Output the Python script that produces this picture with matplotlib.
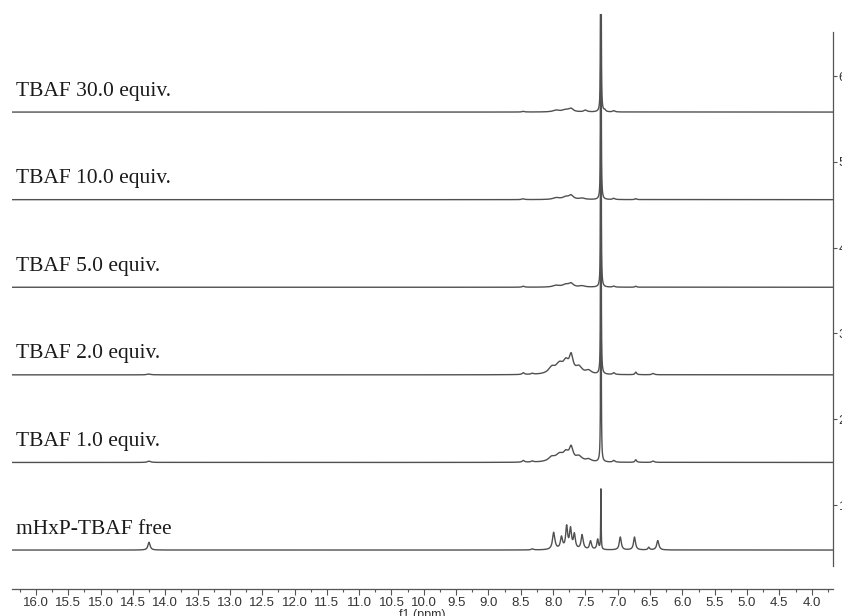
import numpy as np
from matplotlib import pyplot as plt
from matplotlib.ticker import MultipleLocator

# stacked 1H NMR spectra, peaks given as (ppm, height, half width)
labels = ["mHxP-TBAF free", "TBAF 1.0 equiv.", "TBAF 2.0 equiv.",
          "TBAF 5.0 equiv.", "TBAF 10.0 equiv.", "TBAF 30.0 equiv."]

peaks_free = [(14.25, 0.09, 0.02), (8.32, 0.012, 0.02),
              (7.99, 0.20, 0.022), (7.87, 0.14, 0.02), (7.79, 0.26, 0.018),
              (7.73, 0.23, 0.018), (7.67, 0.17, 0.018), (7.55, 0.17, 0.02),
              (7.42, 0.10, 0.018), (7.31, 0.12, 0.015), (7.26, 0.70, 0.004),
              (6.96, 0.15, 0.018), (6.74, 0.15, 0.018), (6.52, 0.03, 0.015),
              (6.38, 0.11, 0.02)]
peaks_1eq = [(14.25, 0.015, 0.03), (8.46, 0.02, 0.02), (8.32, 0.012, 0.02),
             (8.02, 0.05, 0.06), (7.90, 0.08, 0.07), (7.80, 0.09, 0.05),
             (7.72, 0.15, 0.035), (7.60, 0.06, 0.06), (7.45, 0.03, 0.05),
             (7.26, 9.0, 0.0025), (7.06, 0.02, 0.02), (6.72, 0.03, 0.015),
             (6.45, 0.015, 0.02)]
peaks_2eq = [(14.25, 0.01, 0.03), (8.46, 0.02, 0.02), (8.32, 0.012, 0.02),
             (8.02, 0.07, 0.06), (7.90, 0.11, 0.07), (7.80, 0.12, 0.05),
             (7.72, 0.19, 0.035), (7.60, 0.08, 0.06), (7.45, 0.04, 0.05),
             (7.26, 9.0, 0.0025), (7.06, 0.02, 0.02), (6.72, 0.03, 0.015),
             (6.45, 0.015, 0.02)]
peaks_5eq = [(8.46, 0.012, 0.02), (7.95, 0.02, 0.06), (7.80, 0.03, 0.06),
             (7.72, 0.04, 0.04), (7.55, 0.015, 0.05),
             (7.26, 9.0, 0.0025), (7.06, 0.012, 0.02), (6.72, 0.012, 0.015)]
peaks_10eq = [(8.46, 0.01, 0.02), (7.95, 0.02, 0.06), (7.80, 0.03, 0.06),
              (7.72, 0.045, 0.04), (7.55, 0.015, 0.05),
              (7.26, 9.0, 0.0025), (7.06, 0.015, 0.02), (6.72, 0.012, 0.015)]
peaks_30eq = [(8.46, 0.008, 0.02), (7.95, 0.02, 0.06), (7.80, 0.025, 0.06),
              (7.72, 0.035, 0.04), (7.50, 0.02, 0.03),
              (7.26, 9.0, 0.0025), (7.20, 0.02, 0.015), (7.06, 0.015, 0.02)]
all_peaks = [peaks_free, peaks_1eq, peaks_2eq, peaks_5eq, peaks_10eq, peaks_30eq]

base0 = 0.476    # baseline of the bottom trace
step = 1.021     # vertical offset between traces

ppm = np.linspace(3.6, 16.4, 24000)

plt.rcParams['font.family'] = ['Liberation Sans Narrow', 'Liberation Sans', 'DejaVu Sans']
fig = plt.figure(figsize=(8.42, 6.16), dpi=100)
ax = fig.add_axes([12 / 842, 50 / 616, 821 / 842, 552 / 616])

for i, plist in enumerate(all_peaks):
    spec = np.zeros_like(ppm)
    for x0, h, w in plist:
        spec += h / (1 + ((ppm - x0) / w) ** 2)
    y0 = base0 + i * step
    ax.plot(ppm, spec + y0, color='#505050', lw=1.0)
    ax.text(16.31, y0 + 0.245, labels[i], ha='left', va='center',
            fontsize=15.5, family=['Liberation Serif', 'DejaVu Serif'], color='#1a1a1a')

ax.set_xlim(16.37, 3.67)
ax.set_ylim(0.29, 6.724)

ax.spines['left'].set_visible(False)
ax.spines['top'].set_visible(False)
ax.spines['right'].set_bounds(0.29, 6.514)
ax.spines['bottom'].set_position(('outward', 16.6))
for s in ['right', 'bottom']:
    ax.spines[s].set_color('#555555')
    ax.spines[s].set_linewidth(0.9)

ax.xaxis.set_major_locator(MultipleLocator(0.5))
ax.xaxis.set_minor_locator(MultipleLocator(0.25))
ax.xaxis.set_major_formatter(lambda v, pos: f"{v:.1f}")
ax.tick_params(axis='x', which='major', direction='out', length=4, width=0.8,
               color='#555555', labelsize=9.5, labelcolor='#333333', pad=2)
ax.tick_params(axis='x', which='minor', direction='out', length=2, width=0.8, color='#555555')
ax.set_xlabel("f1 (ppm)", fontsize=9, color='#333333', labelpad=0)

# intensity scale on the right, its labels run off the edge
ax.yaxis.tick_right()
ax.set_yticks([1, 2, 3, 4, 5, 6])
ax.tick_params(axis='y', direction='out', length=3, width=0.8, color='#555555',
               labelsize=9.5, labelcolor='#333333', pad=1)

fig.savefig("out.png", dpi=100)
